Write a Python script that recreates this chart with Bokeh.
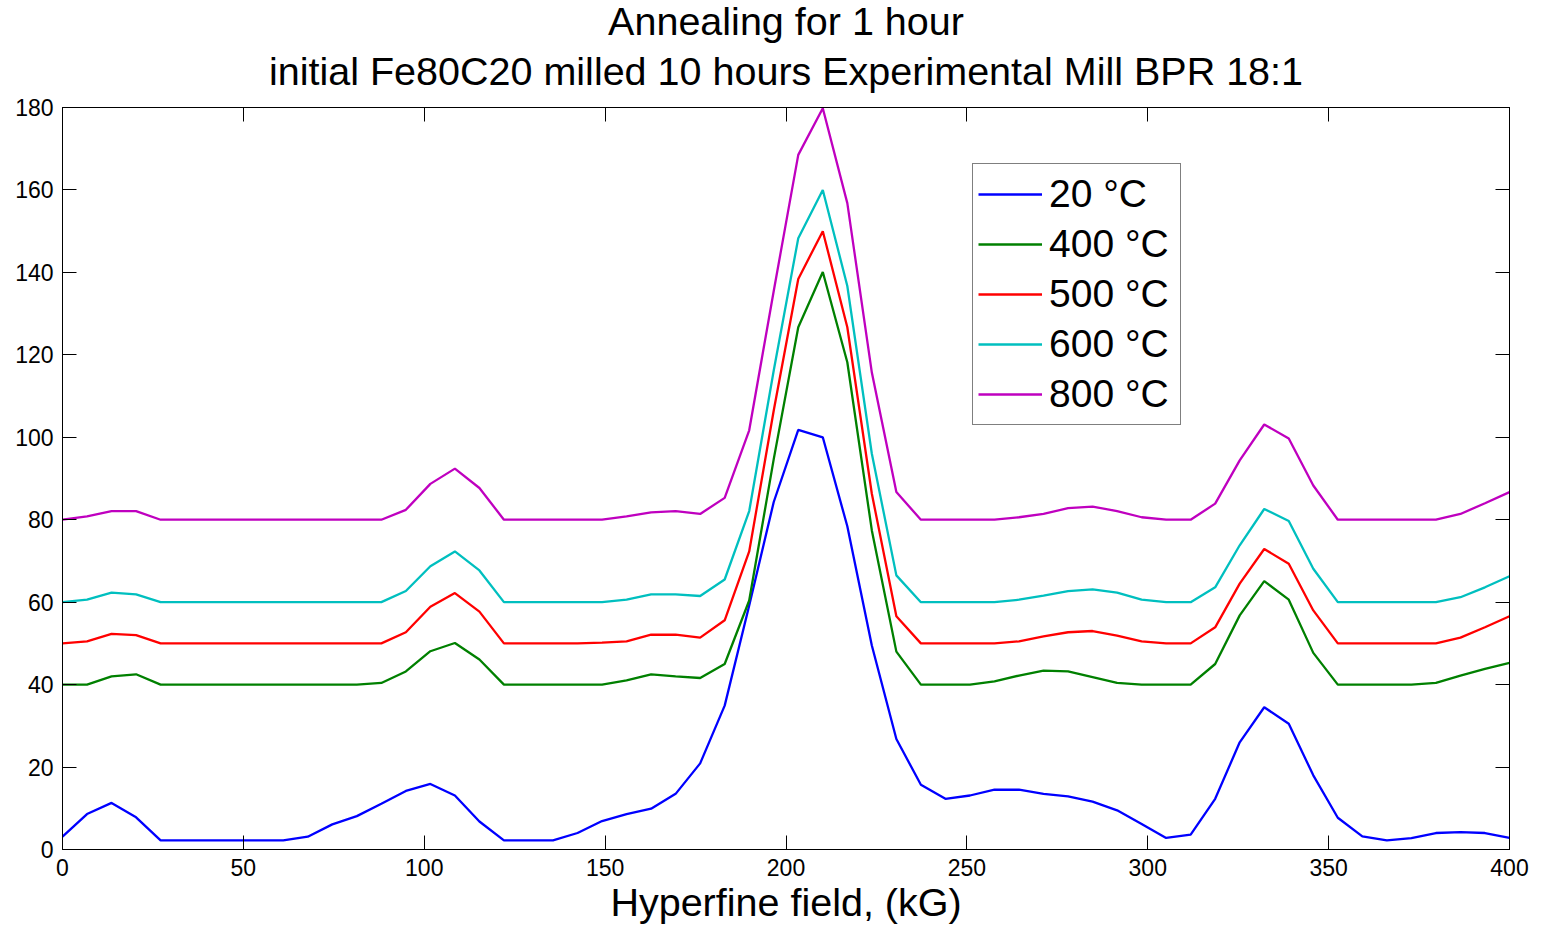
from bokeh.plotting import figure
from bokeh.models import Range1d, FixedTicker, LinearAxis, Title, Legend
from bokeh.embed import file_html
from bokeh.resources import INLINE

# Hyperfine field grid (kG)
field = [0.00, 6.78, 13.56, 20.34, 27.12, 33.90, 40.68, 47.46, 54.24, 61.02,
         67.80, 74.58, 81.36, 88.14, 94.92, 101.69, 108.47, 115.25, 122.03, 128.81,
         135.59, 142.37, 149.15, 155.93, 162.71, 169.49, 176.27, 183.05, 189.83, 196.61,
         203.39, 210.17, 216.95, 223.73, 230.51, 237.29, 244.07, 250.85, 257.63, 264.41,
         271.19, 277.97, 284.75, 291.53, 298.31, 305.08, 311.86, 318.64, 325.42, 332.20,
         338.98, 345.76, 352.54, 359.32, 366.10, 372.88, 379.66, 386.44, 393.22, 400.00]

t20 = [3.1, 8.6, 11.3, 7.8, 2.2, 2.2, 2.2, 2.2, 2.2, 2.2,
       3.1, 6.1, 8.1, 11.1, 14.2, 15.9, 13.1, 6.8, 2.2, 2.2,
       2.2, 4.0, 6.9, 8.6, 9.9, 13.5, 20.9, 34.9, 59.2, 84.3,
       101.8, 100.0, 78.4, 49.5, 26.8, 15.7, 12.3, 13.1, 14.5, 14.5,
       13.5, 12.9, 11.6, 9.5, 6.2, 2.8, 3.6, 12.3, 26.0, 34.5,
       30.5, 18.0, 7.7, 3.2, 2.2, 2.75, 4.0, 4.2, 4.0, 2.8]

t400 = [40.0, 40.0, 42.0, 42.5, 40.0, 40.0, 40.0, 40.0, 40.0, 40.0,
        40.0, 40.0, 40.0, 40.4, 43.2, 48.1, 50.1, 46.1, 40.0, 40.0,
        40.0, 40.0, 40.0, 41.0, 42.5, 42.0, 41.6, 45.0, 60.4, 94.7,
        126.7, 140.1, 118.2, 77.4, 48.0, 40.0, 40.0, 40.0, 40.8, 42.2,
        43.4, 43.2, 41.8, 40.4, 40.0, 40.0, 40.0, 45.0, 56.8, 65.1,
        60.6, 47.7, 40.0, 40.0, 40.0, 40.0, 40.4, 42.2, 43.8, 45.3]

t500 = [50.0, 50.5, 52.3, 52.0, 50.0, 50.0, 50.0, 50.0, 50.0, 50.0,
        50.0, 50.0, 50.0, 50.0, 52.7, 58.9, 62.2, 57.7, 50.0, 50.0,
        50.0, 50.0, 50.2, 50.5, 52.1, 52.1, 51.4, 55.6, 72.3, 106.5,
        138.4, 150.0, 126.7, 86.3, 56.6, 50.0, 50.0, 50.0, 50.0, 50.5,
        51.7, 52.7, 53.0, 51.9, 50.5, 50.0, 50.0, 53.9, 64.5, 72.9,
        69.3, 58.0, 50.0, 50.0, 50.0, 50.0, 50.0, 51.4, 53.9, 56.6]

t600 = [60.0, 60.6, 62.3, 61.9, 60.0, 60.0, 60.0, 60.0, 60.0, 60.0,
        60.0, 60.0, 60.0, 60.0, 62.7, 68.7, 72.3, 67.7, 60.0, 60.0,
        60.0, 60.0, 60.0, 60.6, 61.9, 61.9, 61.5, 65.5, 82.1, 116.2,
        148.3, 160.0, 136.7, 96.0, 66.5, 60.0, 60.0, 60.0, 60.0, 60.6,
        61.6, 62.7, 63.1, 62.3, 60.6, 60.0, 60.0, 63.6, 73.8, 82.6,
        79.7, 68.1, 60.0, 60.0, 60.0, 60.0, 60.0, 61.2, 63.6, 66.3]

t800 = [80.0, 80.8, 82.1, 82.1, 80.0, 80.0, 80.0, 80.0, 80.0, 80.0,
        80.0, 80.0, 80.0, 80.0, 82.4, 88.7, 92.4, 87.7, 80.0, 80.0,
        80.0, 80.0, 80.0, 80.8, 81.8, 82.1, 81.4, 85.3, 101.7, 135.5,
        168.5, 179.8, 156.8, 115.7, 86.7, 80.0, 80.0, 80.0, 80.0, 80.6,
        81.4, 82.8, 83.2, 82.1, 80.6, 80.0, 80.0, 83.9, 94.4, 103.1,
        99.7, 88.3, 80.0, 80.0, 80.0, 80.0, 80.0, 81.4, 84.0, 86.7]

series_labels = ["20 °C", "400 °C", "500 °C", "600 °C", "800 °C"]
series_colors = ["#0000FF", "#008000", "#FF0000", "#00BFBF", "#BF00BF"]
x_ticks = [0, 50, 100, 150, 200, 250, 300, 350, 400]
y_ticks = [0, 20, 40, 60, 80, 100, 120, 140, 160, 180]
title_lines = ["Annealing for 1 hour",
               "initial Fe80C20 milled 10 hours Experimental Mill BPR 18:1"]

FONT = "Liberation Sans"

p = figure(width=1537, height=926, output_backend="svg", toolbar_location=None,
           title=None, x_range=Range1d(0, 400), y_range=Range1d(0, 180),
           min_border_left=62, min_border_right=28, min_border_top=107,
           min_border_bottom=77)
p.xgrid.visible = False
p.ygrid.visible = False
p.outline_line_color = "black"
p.outline_line_width = 1
p.background_fill_color = "white"
p.border_fill_color = "white"

renderers = []
for ys, lab, col in zip([t20, t400, t500, t600, t800], series_labels, series_colors):
    r = p.line(field, ys, line_color=col, line_width=2.3)
    renderers.append((lab, [r]))

def style_axis(ax, labels=True):
    ax.axis_line_color = "black"
    ax.axis_line_width = 1
    ax.major_tick_in = 14
    ax.major_tick_out = 0
    ax.major_tick_line_color = "black"
    ax.minor_tick_line_color = None
    ax.major_label_text_font = FONT
    ax.major_label_text_color = "black"
    if labels:
        ax.major_label_text_font_size = "23px"
    else:
        ax.major_label_text_font_size = "0px"

xa = p.xaxis[0]
xa.ticker = FixedTicker(ticks=x_ticks)
style_axis(xa)
xa.major_label_standoff = 9
xa.axis_label = "Hyperfine field, (kG)"
xa.axis_label_text_font = FONT
xa.axis_label_text_font_size = "39.5px"
xa.axis_label_text_font_style = "normal"
xa.axis_label_text_color = "black"
xa.axis_label_standoff = 1

ya = p.yaxis[0]
ya.ticker = FixedTicker(ticks=y_ticks)
style_axis(ya)
ya.major_label_standoff = 9

top_ax = LinearAxis(ticker=FixedTicker(ticks=x_ticks))
style_axis(top_ax, labels=False)
top_ax.major_label_overrides = {t: "" for t in x_ticks}
top_ax.major_label_standoff = 0
right_ax = LinearAxis(ticker=FixedTicker(ticks=y_ticks))
style_axis(right_ax, labels=False)
right_ax.major_label_overrides = {t: "" for t in y_ticks}
right_ax.major_label_standoff = 0
p.add_layout(top_ax, "above")
p.add_layout(right_ax, "right")

# second line sits next to the frame, first line above it
for txt, so in zip(reversed(title_lines), [29, -20]):
    p.add_layout(Title(text=txt, text_font=FONT, text_font_size="39.5px",
                       text_font_style="normal", align="center",
                       text_color="black", standoff=so), "above")

legend = Legend(items=renderers, location=(910, 424))
legend.border_line_color = "black"
legend.border_line_width = 1
legend.background_fill_color = "white"
legend.background_fill_alpha = 1
legend.label_text_font = FONT
legend.label_text_font_size = "39px"
legend.label_text_color = "black"
legend.glyph_width = 64
legend.glyph_height = 50
legend.label_height = 50
legend.label_width = 126
legend.label_standoff = 7
legend.spacing = 0
legend.padding = 5
legend.margin = 0
p.add_layout(legend, "center")

open("out.html", "w").write(file_html(p, INLINE))
